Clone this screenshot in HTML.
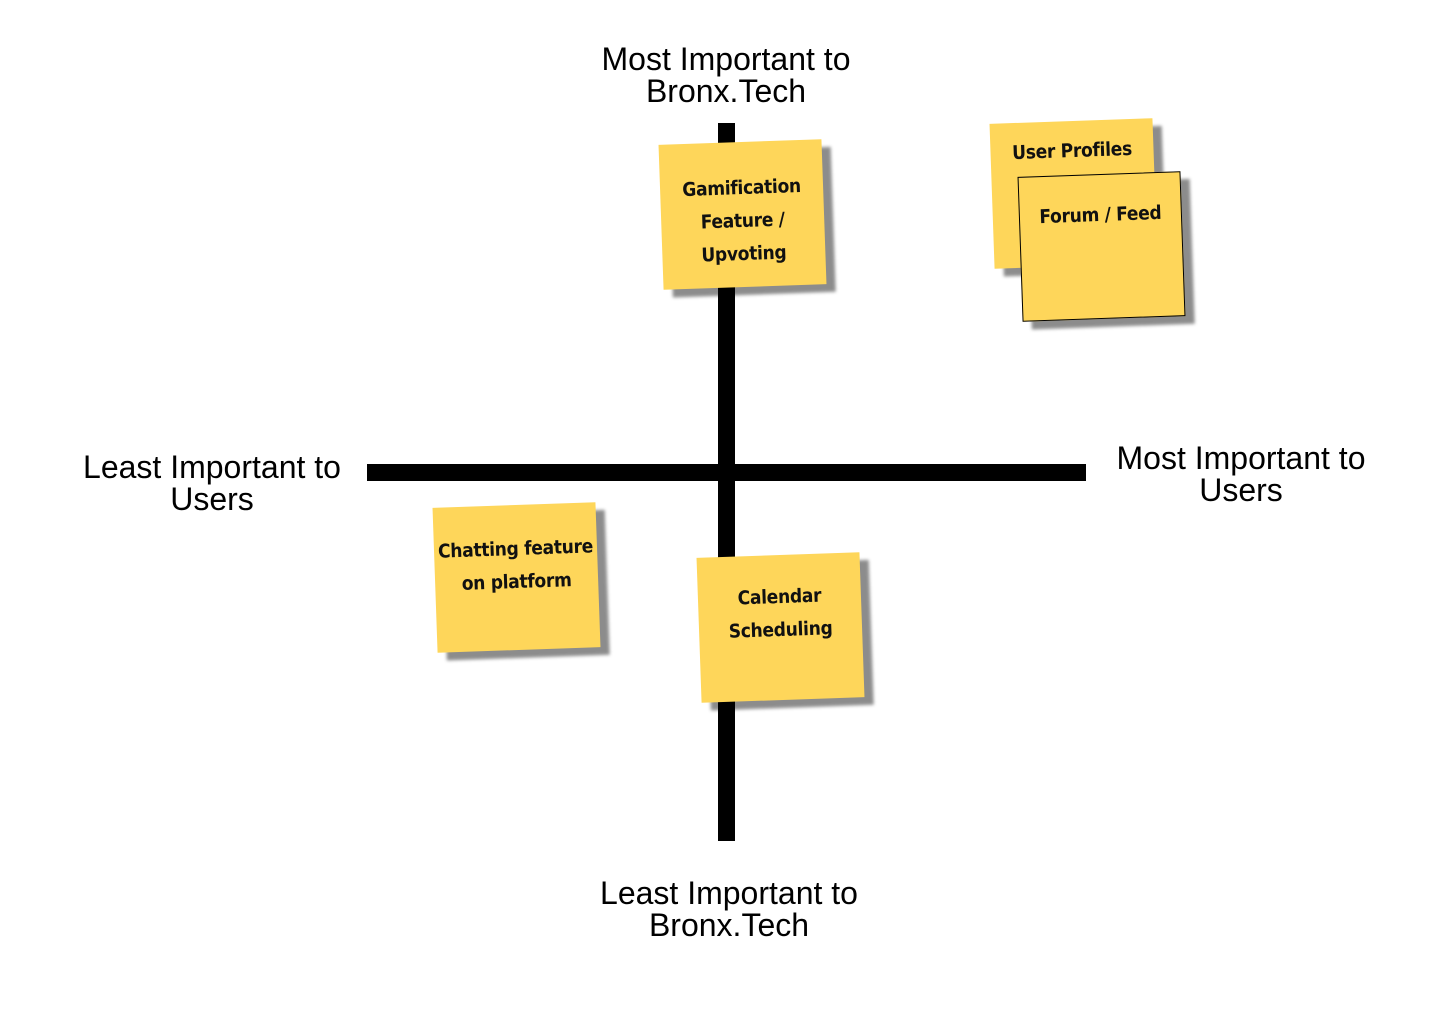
<!DOCTYPE html>
<html><head><meta charset="utf-8">
<style>
html,body{margin:0;padding:0;background:#fff;}
body{width:1456px;height:1014px;position:relative;overflow:hidden;font-family:"Liberation Sans",Arial,sans-serif;}
.lbl{position:absolute;font-size:32px;line-height:32px;color:#000;text-align:center;white-space:nowrap;}
.bar{position:absolute;background:#000;}
.note{position:absolute;width:163px;height:145px;background:#fed65a;transform:rotate(-2deg);box-shadow:9px 8px 3px rgba(0,0,0,0.45);
font-family:"DejaVu Sans Condensed","DejaVu Sans",sans-serif;font-weight:bold;font-size:19px;line-height:33px;text-align:center;color:#111;box-sizing:border-box;padding-top:30px;letter-spacing:-0.3px;}
</style></head><body>
<div class="bar" style="left:718px;top:123px;width:17px;height:718px"></div>
<div class="bar" style="left:367px;top:464px;width:719px;height:17px"></div>

<div class="lbl" style="left:526px;top:43px;width:400px">Most Important to<br>Bronx.Tech</div>
<div class="lbl" style="left:529px;top:877px;width:400px">Least Important to<br>Bronx.Tech</div>
<div class="lbl" style="left:12px;top:451px;width:400px">Least Important to<br>Users</div>
<div class="lbl" style="left:1041px;top:442px;width:400px">Most Important to<br>Users</div>

<div class="note" style="left:661px;top:142px;padding-top:30px">Gamification<br>Feature /<br>Upvoting</div>
<div class="note" style="left:992px;top:121px;padding-top:14px">User Profiles</div>
<div class="note" style="left:1020px;top:174px;padding-top:24px;border:1px solid #000">Forum / Feed</div>
<div class="note" style="left:435px;top:505px;padding-top:28px">Chatting feature<br>on platform</div>
<div class="note" style="left:699px;top:555px;padding-top:26px">Calendar<br>Scheduling</div>
</body></html>
